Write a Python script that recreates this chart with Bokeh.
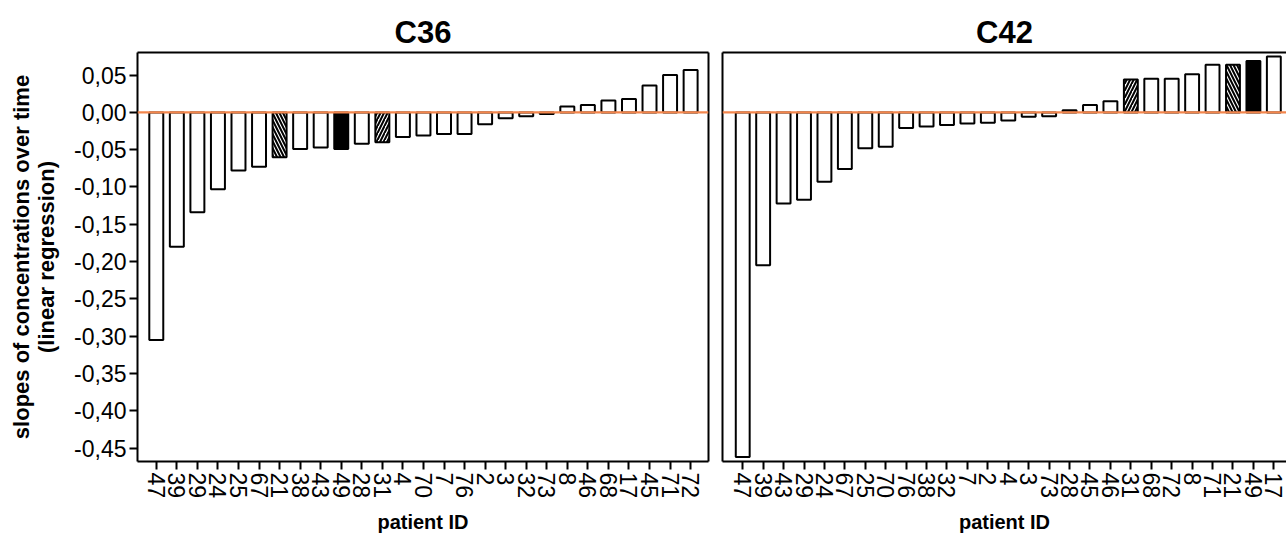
import math
from bokeh.plotting import figure
from bokeh.models import (ColumnDataSource, Range1d, FixedTicker, LinearAxis, Span)
from bokeh.layouts import row
from bokeh.embed import file_html
from bokeh.resources import INLINE

c36_ids = ["47", "39", "29", "24", "25", "67", "21", "38", "43", "49", "28", "31", "4", "70",
           "7", "76", "2", "3", "32", "73", "8", "46", "68", "17", "45", "71", "72"]
c36_vals = [-0.305, -0.180, -0.134, -0.103, -0.078, -0.073, -0.060, -0.049, -0.047, -0.049,
            -0.042, -0.040, -0.033, -0.031, -0.029, -0.029, -0.016, -0.008, -0.005, -0.002,
            0.008, 0.010, 0.016, 0.018, 0.036, 0.050, 0.057]

c42_ids = ["47", "39", "43", "29", "24", "67", "25", "70", "76", "38", "32", "7", "2", "4",
           "3", "73", "28", "45", "46", "31", "68", "72", "8", "71", "21", "49", "17"]
c42_vals = [-0.462, -0.205, -0.122, -0.117, -0.093, -0.076, -0.048, -0.046, -0.021, -0.019,
            -0.017, -0.015, -0.014, -0.011, -0.006, -0.005, 0.003, 0.010, 0.015, 0.044,
            0.045, 0.045, 0.051, 0.064, 0.064, 0.069, 0.075]

y_ticks = [0.05, 0.0, -0.05, -0.10, -0.15, -0.20, -0.25, -0.30, -0.35, -0.40, -0.45]
y_tick_labels = ["0,05", "0,00", "-0,05", "-0,10", "-0,15", "-0,20", "-0,25", "-0,30",
                 "-0,35", "-0,40", "-0,45"]

black_ids = ["49"]
hatch_back_ids = ["21"]
hatch_fwd_ids = ["31"]

FONT = "Liberation Sans"
Y_START, Y_END = -0.468, 0.0803


def make_source(ids, vals):
    fills, hatches = [], []
    for i in ids:
        fills.append("black" if i in black_ids else "white")
        if i in hatch_back_ids:
            hatches.append("\\")
        elif i in hatch_fwd_ids:
            hatches.append("/")
        else:
            hatches.append(" ")
    return ColumnDataSource(dict(x=list(range(len(ids))), top=vals, fill=fills, hatch=hatches))


def style_axis(ax):
    ax.axis_line_color = "black"
    ax.axis_line_width = 2
    ax.major_tick_line_color = "black"
    ax.major_tick_line_width = 2
    ax.major_tick_out = 8
    ax.major_tick_in = 0
    ax.minor_tick_line_color = None
    ax.major_label_text_font = FONT
    ax.major_label_text_color = "black"
    ax.major_label_text_font_size = "23px"
    ax.axis_label_text_font = FONT
    ax.axis_label_text_font_style = "bold"
    ax.axis_label_text_font_size = "20px"
    ax.axis_label_text_color = "black"


def blank_axis(ax):
    ax.axis_line_color = "black"
    ax.axis_line_width = 2
    ax.ticker = FixedTicker(ticks=[])
    ax.major_tick_line_color = None
    ax.minor_tick_line_color = None
    ax.major_label_text_font_size = "0px"


def make_panel(title, ids, vals, x_start, x_end, width, left_border, right_border, show_y):
    p = figure(width=width, height=536, output_backend="svg", toolbar_location=None,
               x_range=Range1d(x_start, x_end), y_range=Range1d(Y_START, Y_END),
               min_border_left=left_border, min_border_right=right_border,
               min_border_top=52, min_border_bottom=70, title=title)
    p.outline_line_color = None
    p.grid.visible = False
    p.background_fill_color = "white"
    p.border_fill_color = "white"
    p.title.align = "center"
    p.title.text_font = FONT
    p.title.text_font_style = "bold"
    p.title.text_font_size = "31px"
    p.title.text_color = "black"
    p.title.standoff = 5

    src = make_source(ids, vals)
    p.vbar(x="x", top="top", bottom=0, width=0.68, source=src, fill_color="fill",
           line_color="black", line_width=2, hatch_pattern="hatch", hatch_color="black",
           hatch_scale=7, hatch_weight=2)

    p.add_layout(Span(location=0, dimension="width", line_color="#f3864c", line_width=2.2))

    xa = p.xaxis[0]
    style_axis(xa)
    xa.ticker = FixedTicker(ticks=list(range(len(ids))))
    xa.major_label_overrides = {i: lab for i, lab in enumerate(ids)}
    xa.major_label_orientation = -math.pi / 2
    xa.axis_label = "patient ID"
    xa.major_label_standoff = 3
    xa.axis_label_standoff = 10

    ya = p.yaxis[0]
    if show_y:
        style_axis(ya)
        ya.ticker = FixedTicker(ticks=y_ticks)
        ya.major_label_overrides = {t: lab for t, lab in zip(y_ticks, y_tick_labels)}
        ya.axis_label = "slopes of concentrations over time\n(linear regression)"
        ya.axis_label_text_font_size = "22px"
        ya.axis_label_text_line_height = 1.0
        ya.major_label_standoff = 3
        ya.axis_label_standoff = 12
    else:
        blank_axis(ya)

    top_ax = LinearAxis()
    blank_axis(top_ax)
    p.add_layout(top_ax, "above")
    if show_y:
        right_ax = LinearAxis()
        blank_axis(right_ax)
        p.add_layout(right_ax, "right")
    return p


p1 = make_panel("C36", c36_ids, c36_vals, -0.914, 26.87, 712, 137, 4, True)
p2 = make_panel("C42", c42_ids, c42_vals, -0.99, 26.62, 574, 10, 0, False)

layout = row(p1, p2)
open("out.html", "w").write(file_html(layout, INLINE))
